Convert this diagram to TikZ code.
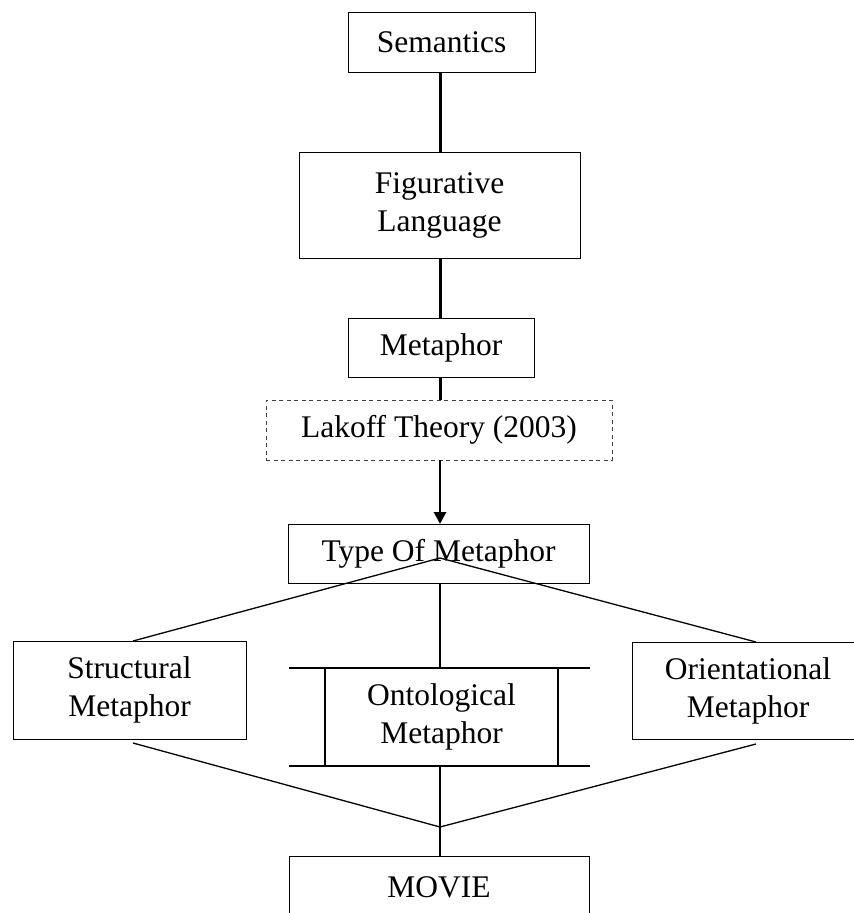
\documentclass[tikz,border=0pt]{standalone}
\usepackage{fontspec}
\setmainfont{Liberation Serif}
\usetikzlibrary{arrows.meta}
\begin{document}
\begin{tikzpicture}[x=1pt,y=-1pt,
  every node/.style={inner sep=0pt,outer sep=0pt,font=\fontsize{31.5}{38}\selectfont,align=center},
  box/.style={draw,line width=1pt},
  dbox/.style={draw=black!75,line width=1pt,dash pattern=on 4pt off 3.5pt},
  thickline/.style={line width=3pt},
  midline/.style={line width=2pt},
  thinline/.style={line width=1.3pt}]
\useasboundingbox (0,0) rectangle (854,913);
\node[box,minimum width=187pt,minimum height=60pt] (sem) at (441.5,42) {Semantics};
\node[box,minimum width=281pt,minimum height=106pt] (fig) at (439.5,205) {Figurative\\Language};
\node[box,minimum width=186pt,minimum height=59pt] (met) at (441,347.5) {Metaphor};
\node[dbox,minimum width=346pt,minimum height=60pt] (lak) at (439,430) {Lakoff Theory (2003)};
\node[box,minimum width=301pt,minimum height=59pt] (typ) at (438.5,553.5) {Type Of Metaphor};
\node[box,minimum width=233pt,minimum height=98pt] (str) at (129.5,690) {Structural\\Metaphor};
\node[box,minimum width=232pt,minimum height=97pt] (ori) at (748,690.5) {Orientational\\Metaphor};
\node[minimum width=233pt,minimum height=98pt] (ont) at (441.5,717) {Ontological\\Metaphor};
\node[box,minimum width=300pt,minimum height=62pt] (mov) at (439,887) {MOVIE};
\coordinate (col) at (440,0);
\coordinate (apex) at (440,558);
\coordinate (conv) at (440,827);
% top chain
\draw[thickline] (sem.south -| col) -- (fig.north -| col);
\draw[thickline] (fig.south -| col) -- (met.north -| col);
\draw[thickline] (met.south -| col) -- (lak.north -| col);
\draw[line width=2.7pt,-{Triangle[width=12pt,length=12pt]}] (lak.south -| col) -- (typ.north -| col);
% branches
\draw[thinline] ([xshift=3.5pt]str.north) -- (apex) -- ([xshift=8pt]ori.north);
\draw[midline] (typ.south -| col) -- (ont.north -| col);
% ontological bracket shape
\draw[midline] ([xshift=-36pt]ont.north west) -- ([xshift=32pt]ont.north east);
\draw[midline] ([xshift=-36pt]ont.south west) -- ([xshift=32pt]ont.south east);
\draw[midline] (ont.north west) -- (ont.south west);
\draw[midline] (ont.north east) -- (ont.south east);
% converge
\draw[thinline] ([xshift=3.5pt,yshift=-4pt]str.south) -- (conv) -- ([xshift=8pt,yshift=-5pt]ori.south);
\draw[midline] (ont.south -| col) -- (conv) -- (mov.north -| col);
\end{tikzpicture}
\end{document}
